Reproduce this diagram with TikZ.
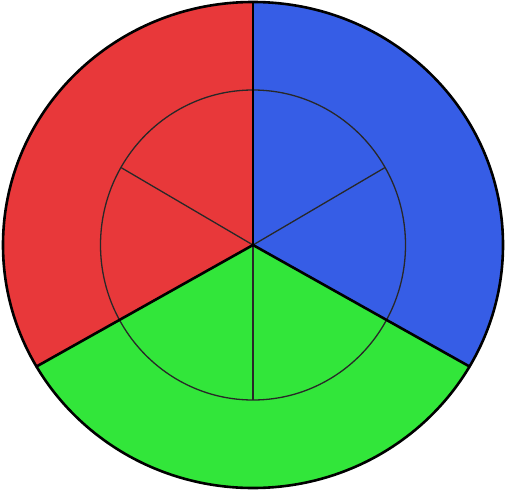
\documentclass[tikz,border=0pt]{standalone}
\definecolor{sred}{RGB}{232,56,58}
\definecolor{sblue}{RGB}{54,93,230}
\definecolor{sgreen}{RGB}{50,230,58}
\definecolor{thinline}{RGB}{40,40,40}
\begin{document}
\begin{tikzpicture}[x=1pt,y=1pt,
  outerline/.style={line width=2.6pt,black},
  innerline/.style={line width=1.3pt,thinline}]
\useasboundingbox (0,0) rectangle (508,491);
\coordinate (c) at (253,246);
% sectors
\fill[sred] (c) -- +(90:250 and 243) arc[start angle=90,end angle=210,x radius=250,y radius=243] -- cycle;
\fill[sblue] (c) -- +(-30:250 and 243) arc[start angle=-30,end angle=90,x radius=250,y radius=243] -- cycle;
\fill[sgreen] (c) -- +(210:250 and 243) arc[start angle=210,end angle=330,x radius=250,y radius=243] -- cycle;
% inner circle and spokes
\draw[innerline] (c) ellipse[x radius=152.5,y radius=155];
\draw[innerline] (c) -- +(150:152.5 and 155);
\draw[innerline] (c) -- +(30:152.5 and 155);
\draw[innerline] (c) -- +(270:152.5 and 155);
% outer dividers
\draw[outerline] (c) -- +(90:250 and 243);
\draw[outerline,line cap=round] (c) -- +(210:250 and 243);
\draw[outerline,line cap=round] (c) -- +(330:250 and 243);
\draw[outerline] (c) ellipse[x radius=250,y radius=243];
\end{tikzpicture}
\end{document}
